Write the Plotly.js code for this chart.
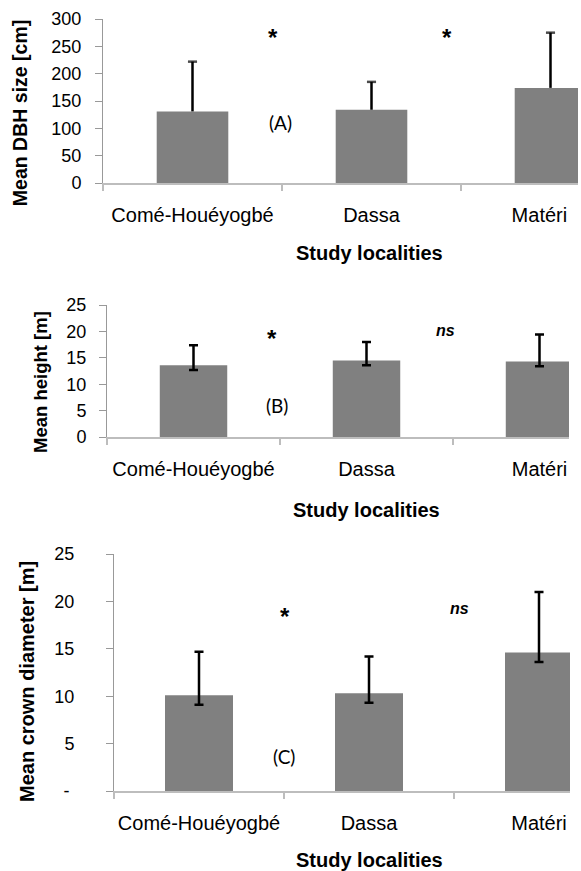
<!DOCTYPE html>
<html><head><meta charset="utf-8">
<script src="https://cdn.plot.ly/plotly-3.0.1.min.js"></script>
<style>
html,body{margin:0;padding:0;background:#fff;width:581px;height:871px;overflow:hidden;}
.crop{position:absolute;left:0;overflow:hidden;background:#fff;}
</style></head><body>
<div class="crop" style="top:0;width:578px;height:270px"><div id="A"></div></div>
<div class="crop" style="top:270px;width:569px;height:270px"><div id="B"></div></div>
<div class="crop" style="top:540px;width:570px;height:331px"><div id="C"></div></div>
<script>
// ---- data ----
const localities = ['Comé-Houéyogbé', 'Dassa', 'Matéri'];
const dbhMean = [131, 134, 174];
const dbhUpper = [222, 185, 275];
const heightMean = [13.6, 14.5, 14.3];
const heightUpper = [17.4, 18.0, 19.4];
const heightLower = [12.7, 13.6, 13.4];
const crownMean = [10.1, 10.3, 14.6];
const crownUpper = [14.7, 14.2, 21.0];
const crownLower = [9.1, 9.3, 13.6];
const dbhTicks = [0, 50, 100, 150, 200, 250, 300];
const heightTicks = [0, 5, 10, 15, 20, 25];
const crownTicks = [0, 5, 10, 15, 20, 25];
const crownTickText = ['-\u00a0', '5', '10', '15', '20', '25'];

// ---- styling ----
const FONT = 'Liberation Sans, Arial, sans-serif';
const BAR = '#808080';

function paper(px, py, top, W, H, m) {
  return { x: (px - m.l) / (W - m.l - m.r), y: (H - m.b - (py - top)) / (H - m.t - m.b) };
}

function panel(id, opt) {
  const W = 660, H = opt.H, m = opt.m;
  const traces = [{
    type: 'bar', x: localities, y: opt.mean,
    marker: { color: BAR, line: { width: 0 } },
    error_y: opt.errY || { visible: false },
    hoverinfo: 'skip'
  }];
  if (opt.extra) traces.push(opt.extra);
  const ann = opt.labels.map(a => {
    const p = paper(a.x, a.y, opt.top, W, H, m);
    return Object.assign({
      xref: 'paper', yref: 'paper', x: p.x, y: p.y, xanchor: 'center', yanchor: 'middle',
      showarrow: false, text: a.t, font: Object.assign({ family: FONT, size: 18, color: '#000' }, a.f || {})
    }, a.angle ? { textangle: a.angle } : {});
  });
  const layout = {
    width: W, height: H, margin: m, showlegend: false, hovermode: false,
    paper_bgcolor: '#fff', plot_bgcolor: '#fff', bargap: opt.bargap,
    font: { family: FONT, color: '#000' },
    xaxis: {
      type: 'category', range: [-0.5, 2.5], tickson: 'boundaries', tickangle: 0,
      ticks: 'outside', ticklen: 6, tickcolor: '#bdbdbd', tickwidth: 1.5,
      showline: true, linecolor: '#bdbdbd', linewidth: 2, showgrid: false, zeroline: false,
      tickfont: { family: FONT, size: 20, color: '#000' }, ticklabelstandoff: 13,
      tickvals: localities, ticktext: opt.tickText || localities,
      automargin: false
    },
    yaxis: {
      range: opt.yrange, tickvals: opt.yticks, ticktext: opt.ytickText,
      ticks: 'outside', ticklen: 7, tickcolor: '#999', tickwidth: 1,
      showline: true, linecolor: '#999', linewidth: 1, showgrid: false, zeroline: false,
      tickfont: { family: FONT, size: 18, color: '#000' }, ticklabelstandoff: opt.ystand,
      automargin: false
    },
    annotations: ann
  };
  Plotly.newPlot(id, traces, layout, { staticPlot: true, displayModeBar: false });
}

// Panel A: upward-only error bars drawn as stems with caps
const stemX = [], stemY = [], stemSize = [];
localities.forEach((c, i) => { stemX.push(c, c, null); stemY.push(dbhMean[i], dbhUpper[i], null); stemSize.push(0, 6.5, 0); });

const xTitle = '<b>Study localities</b>';
const xTitleFont = { size: 20 };

panel('A', {
  H: 270, top: 0, m: { l: 102.5, r: 19.6, t: 19, b: 87 }, bargap: 0.6,
  mean: dbhMean, yrange: [0, 300], yticks: dbhTicks, ystand: 10,
  tickText: localities.map((t, i) => i === 2 ? t + '\u00a0\u00a0\u00a0\u00a0' : t),
  extra: {
    type: 'scatter', mode: 'lines+markers', x: stemX, y: stemY, connectgaps: false,
    line: { color: '#000', width: 2.5 },
    marker: { symbol: 'line-ew', size: stemSize, color: '#000', line: { color: '#000', width: 2.5 } },
    hoverinfo: 'skip'
  },
  labels: [
    { x: 19, y: 113.5, t: '<b>Mean DBH size [cm]</b>', angle: -90, f: { size: 19.5 } },
    { x: 369, y: 253, t: xTitle, f: xTitleFont },
    { x: 272.6, y: 37, t: '<b>*</b>', f: { size: 24 } },
    { x: 447, y: 37, t: '<b>*</b>', f: { size: 24 } },
    { x: 280, y: 122, t: '(A)', f: { family: 'Lato, Open Sans, sans-serif', size: 19 } }
  ]
});

panel('B', {
  H: 270, top: 270, m: { l: 107, r: 34, t: 35, b: 103 }, bargap: 0.61,
  mean: heightMean, yrange: [0, 25], yticks: heightTicks, ystand: 9,
  errY: {
    type: 'data', symmetric: false, color: '#000', thickness: 2.5, width: 4.5,
    array: heightUpper.map((u, i) => u - heightMean[i]),
    arrayminus: heightLower.map((l, i) => heightMean[i] - l)
  },
  labels: [
    { x: 41, y: 382, t: '<b>Mean height [m]</b>', angle: -90, f: { size: 18.5 } },
    { x: 366.7, y: 510, t: xTitle, f: xTitleFont },
    { x: 272, y: 338, t: '<b>*</b>', f: { size: 24 } },
    { x: 445, y: 330, t: '<b><i>ns</i></b>', f: { size: 16 } },
    { x: 277, y: 405, t: '(B)', f: { family: 'Lato, Open Sans, sans-serif', size: 19 } }
  ]
});

panel('C', {
  H: 331, top: 540, m: { l: 114, r: 36, t: 14, b: 80 }, bargap: 0.6,
  mean: crownMean, yrange: [0, 25], yticks: crownTicks, ytickText: crownTickText, ystand: 28,
  errY: {
    type: 'data', symmetric: false, color: '#000', thickness: 2.5, width: 4.5,
    array: crownUpper.map((u, i) => u - crownMean[i]),
    arrayminus: crownLower.map((l, i) => crownMean[i] - l)
  },
  labels: [
    { x: 27, y: 682, t: '<b>Mean crown diameter [m]</b>', angle: -90, f: { size: 20 } },
    { x: 369, y: 860, t: xTitle, f: xTitleFont },
    { x: 284.6, y: 616, t: '<b>*</b>', f: { size: 24 } },
    { x: 459.7, y: 608, t: '<b><i>ns</i></b>', f: { size: 16 } },
    { x: 284, y: 756, t: '(C)', f: { family: 'Lato, Open Sans, sans-serif', size: 19 } }
  ]
});
</script>
</body></html>
